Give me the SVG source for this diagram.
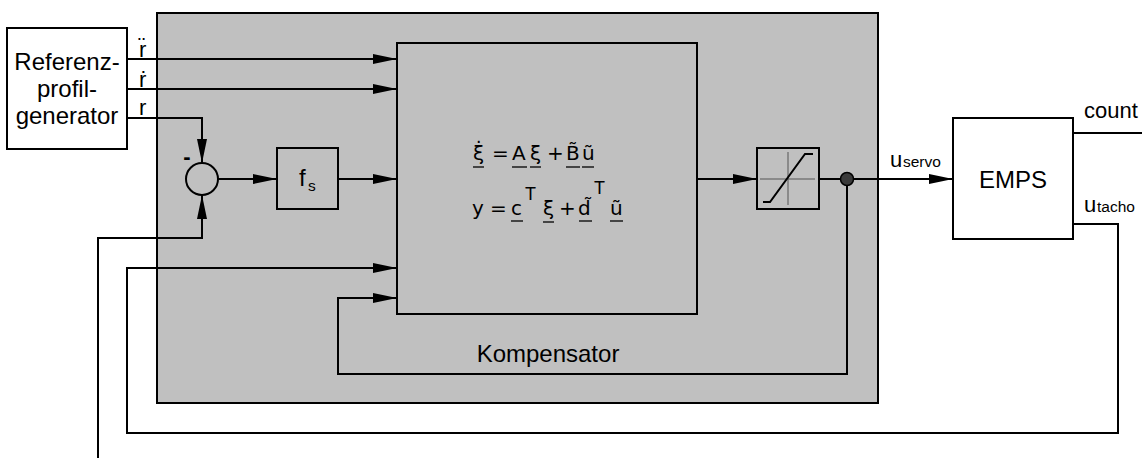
<svg xmlns="http://www.w3.org/2000/svg" width="1142" height="458" viewBox="0 0 1142 458">
<style>
.box{fill:#fff;stroke:#000;stroke-width:2}
.gbox{fill:#c0c0c0;stroke:#000;stroke-width:2}
.ln{fill:none;stroke:#000;stroke-width:2}
.thin{fill:none;stroke:#555;stroke-width:1}
.t{font-family:"Liberation Sans",Arial,sans-serif;font-size:22px;fill:#000}
.tl{font-family:"Liberation Sans",Arial,sans-serif;font-size:24px;fill:#000}
.ts{font-family:"Liberation Sans",Arial,sans-serif;font-size:15.5px;fill:#000}
.m{font-family:"DejaVu Sans",sans-serif;font-size:20px;fill:#000}
.ms{font-family:"Liberation Sans",Arial,sans-serif;font-size:18px;fill:#000}
.ul{stroke:#000;stroke-width:1.3}
</style>
<defs>
<marker id="ah" markerUnits="userSpaceOnUse" markerWidth="24" markerHeight="10" refX="24" refY="5" orient="auto">
<path d="M0,0 L24,5 L0,10 Z" fill="#000"/>
</marker>
</defs>
<rect width="1142" height="458" fill="#fff"/>
<g id="kompensator">
<rect class="gbox" x="157" y="13" width="721" height="390"/>
<text class="tl" x="548" y="362" text-anchor="middle">Kompensator</text>
</g>
<g id="referenzprofilgenerator">
<rect class="box" x="7" y="28" width="120" height="121"/>
<text class="tl" x="67" y="70" text-anchor="middle">Referenz-</text>
<text class="tl" x="67" y="97" text-anchor="middle">profil-</text>
<text class="tl" x="67" y="124" text-anchor="middle">generator</text>
</g>
<g id="summation">
<circle cx="202" cy="179" r="16" fill="none" stroke="#000" stroke-width="2"/>
<text class="t" x="187" y="164" text-anchor="middle" font-weight="bold">-</text>
</g>
<g id="fs">
<rect class="gbox" x="277" y="148" width="61" height="61"/>
<text class="tl" x="299" y="186">f</text>
<text class="ts" x="308" y="191">s</text>
</g>
<g id="statespace">
<rect class="gbox" x="397" y="43" width="300" height="271"/>
<text class="m" x="473" y="160">ξ̇</text>
<text class="m" x="492" y="160">=</text>
<text class="m" x="512" y="160">A</text>
<text class="m" x="530" y="160">ξ</text>
<text class="m" x="547" y="160">+</text>
<text class="m" x="566" y="160">B̃</text>
<text class="m" x="582" y="160">ũ</text>
<line class="ul" x1="473" y1="167" x2="484" y2="167"/>
<line class="ul" x1="512" y1="167" x2="527" y2="167"/>
<line class="ul" x1="530" y1="167" x2="541" y2="167"/>
<line class="ul" x1="566" y1="167" x2="580" y2="167"/>
<line class="ul" x1="582" y1="167" x2="594" y2="167"/>
<text class="m" x="472" y="215">y</text>
<text class="m" x="490" y="215">=</text>
<text class="m" x="511" y="215">c</text>
<text class="ms" x="525" y="200">T</text>
<text class="m" x="543" y="215">ξ</text>
<text class="m" x="559" y="215">+</text>
<text class="m" x="578" y="215">d̃</text>
<text class="ms" x="594" y="194">T</text>
<text class="m" x="610" y="215">ũ</text>
<line class="ul" x1="511" y1="221" x2="523" y2="221"/>
<line class="ul" x1="543" y1="222" x2="554" y2="222"/>
<line class="ul" x1="579" y1="221" x2="592" y2="221"/>
<line class="ul" x1="610" y1="221" x2="623" y2="221"/>
</g>
<g id="saturation">
<rect class="gbox" x="757" y="148" width="62" height="61"/>
<line class="thin" x1="760" y1="179" x2="815" y2="179"/>
<line class="thin" x1="788" y1="152" x2="788" y2="205"/>
<polyline class="ln" points="763,202 770,202 805,154 813,154"/>
</g>
<g id="emps">
<rect class="box" x="953" y="118" width="120" height="121"/>
<text class="tl" x="1013" y="188" text-anchor="middle">EMPS</text>
</g>
<g id="connectors">
<line class="ln" x1="127" y1="59" x2="397" y2="59" marker-end="url(#ah)"/>
<line class="ln" x1="127" y1="89" x2="397" y2="89" marker-end="url(#ah)"/>
<polyline class="ln" points="127,118 202,118 202,163" marker-end="url(#ah)"/>
<line class="ln" x1="218" y1="179" x2="277" y2="179" marker-end="url(#ah)"/>
<line class="ln" x1="338" y1="179" x2="397" y2="179" marker-end="url(#ah)"/>
<polyline class="ln" points="98,458 98,238 202,238 202,195" marker-end="url(#ah)"/>
<polyline class="ln" points="1073,224 1118,224 1118,433 127,433 127,268 397,268" marker-end="url(#ah)"/>
<polyline class="ln" points="847,179 847,374 338,374 338,298 397,298" marker-end="url(#ah)"/>
<line class="ln" x1="697" y1="179" x2="757" y2="179" marker-end="url(#ah)"/>
<line class="ln" x1="819" y1="179" x2="953" y2="179" marker-end="url(#ah)"/>
<line class="ln" x1="1073" y1="133" x2="1142" y2="133"/>
<circle cx="847" cy="179" r="6.5" fill="#3a3a3a" stroke="#000" stroke-width="1.5"/>
<text class="t" x="139" y="57">r̈</text>
<text class="t" x="139" y="87">ṙ</text>
<text class="t" x="139" y="115">r</text>
<text class="t" x="890" y="167">u</text>
<text class="ts" x="903" y="167">servo</text>
<text class="t" x="1084" y="118" font-size="23">count</text>
<text class="t" x="1084" y="212">u</text>
<text class="ts" x="1097" y="212">tacho</text>
</g>
</svg>
